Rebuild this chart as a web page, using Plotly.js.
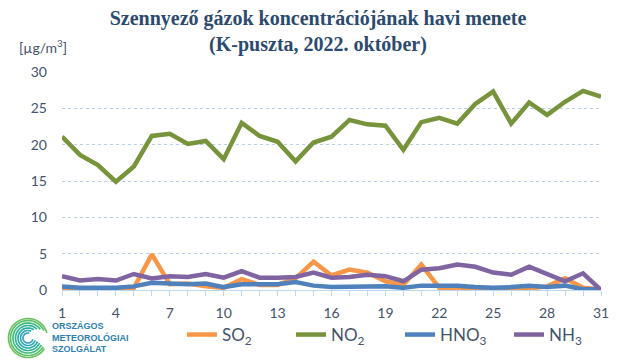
<!DOCTYPE html>
<html><head><meta charset="utf-8">
<script src="https://cdn.plot.ly/plotly-3.0.1.min.js"></script>
<style>html,body{margin:0;padding:0;background:#fff}#chart{width:640px;height:360px}</style>
</head><body><div id="chart"></div>
<script>
const days = Array.from({length:31},(_,i)=>i+1);
const seriesNames = ['SO<sub>2</sub>','NO<sub>2</sub>','HNO<sub>3</sub>','NH<sub>3</sub>'];
const so2  = [0.3,0.2,0.2,0.2,0.3,4.9,0.8,0.9,0.5,0.3,1.5,0.7,0.7,1.6,3.9,2.0,2.8,2.4,1.2,0.7,3.5,0.3,0.1,0.1,0.1,0.1,0.2,0.5,1.6,0.3,0.1];
const no2  = [21.1,18.6,17.2,14.9,17.0,21.2,21.5,20.1,20.5,18.0,23.0,21.2,20.4,17.7,20.3,21.1,23.4,22.8,22.6,19.3,23.1,23.7,22.9,25.6,27.3,22.9,25.8,24.1,25.9,27.4,26.6];
const hno3 = [0.5,0.3,0.3,0.3,0.5,1.0,0.9,0.8,0.9,0.4,0.8,0.8,0.8,1.1,0.6,0.4,0.4,0.4,0.5,0.3,0.6,0.6,0.6,0.4,0.3,0.4,0.6,0.4,0.6,0.1,0.1];
const nh3  = [1.9,1.3,1.5,1.3,2.2,1.6,1.9,1.8,2.2,1.7,2.6,1.7,1.7,1.8,2.4,1.7,1.8,2.1,1.9,1.2,2.8,3.0,3.5,3.2,2.4,2.1,3.2,2.2,1.2,2.3,0.0];
const xTickVals = [1,4,7,10,13,16,19,22,25,28,31];
const colors = ['#F79646','#77933C','#4F81BD','#8064A2'];

const W=640,H=360, L=62, R=601, T=72, B=290;
function px2paper(x,y){return [(x-L)/(R-L),(B-y)/(B-T)];}
function arcPath(cx,cy,r,a0,a1){
  let s='';const n=48;
  for(let i=0;i<=n;i++){const a=(a0+(a1-a0)*i/n)*Math.PI/180;
    const p=px2paper(cx+r*Math.cos(a),cy-r*Math.sin(a));
    s+=(i?'L':'M')+p[0].toFixed(5)+','+p[1].toFixed(5);}
  return s;
}
const swirlCols=['#3aa0c8','#2fa6b8','#29aca6','#31b394','#42b97f','#5bbf6c','#6cc35f'];
const shapes=[];
const radii=[5,7.5,10,12.5,15,17.5,19.5];
radii.forEach((r,i)=>{
  shapes.push({type:'path',xref:'paper',yref:'paper',path:arcPath(28,338,r,75-i*10,345-i*3),
    line:{color:swirlCols[i],width:1.7}});
});

const data=[so2,no2,hno3,nh3].map((v,i)=>({
  x:days,y:v,type:'scatter',mode:'lines',name:seriesNames[i],
  line:{color:colors[i],width:4.5},hoverinfo:'skip'
}));

const tickFont={family:'Lato, "Noto Sans", sans-serif',size:14,color:'#44546A'};
const layout={
  width:W,height:H,
  margin:{l:L,r:W-R,t:T,b:H-B,pad:0},
  paper_bgcolor:'#fff',plot_bgcolor:'#fff',
  title:{text:'Szennyező gázok koncentrációjának havi menete<br>(K-puszta, 2022. október)',
    font:{family:'"Liberation Serif", "DejaVu Serif", serif',size:20,color:'#2B4A6F',weight:'bold'},
    x:318/640,xanchor:'center',xref:'container',y:0.93,yanchor:'top',yref:'container'},
  xaxis:{range:[1,31],tickvals:xTickVals,ticktext:xTickVals.map(String),automargin:false,
    showgrid:false,zeroline:false,showline:true,linecolor:'#BDD7EE',linewidth:1,
    ticks:'outside',ticklen:5,tickcolor:'#BDD7EE',tickfont:tickFont,ticklabelstandoff:5,
    minor:{dtick:1,tick0:1,ticks:'outside',ticklen:5,tickcolor:'#BDD7EE',showgrid:false}},
  yaxis:{range:[0,30],dtick:5,tick0:0,showgrid:true,gridcolor:'#B7CDE8',griddash:'dot',gridwidth:1,automargin:false,
    zeroline:false,showline:false,ticks:'',tickfont:tickFont,ticklabelstandoff:14},
  showlegend:true,
  legend:{orientation:'h',xref:'container',yref:'container',x:182/W,xanchor:'left',y:1-335/H,yanchor:'middle',
    font:{family:'Lato, "Noto Sans", sans-serif',size:17,color:'#44546A'},
    entrywidth:64,entrywidthmode:'pixels',bgcolor:'rgba(0,0,0,0)',tracegroupgap:0},
  annotations:[
    {xref:'paper',yref:'paper',x:px2paper(17,0)[0],y:px2paper(0,47)[1],xanchor:'left',yanchor:'middle',
     text:'[µg/m<sup>3</sup>]',showarrow:false,font:{family:'Lato, "Noto Sans", sans-serif',size:14,color:'#44546A'}},
    {xref:'paper',yref:'paper',x:px2paper(50,0)[0],y:px2paper(0,337)[1],xanchor:'left',yanchor:'middle',align:'left',
     text:'ORSZÁGOS<br>METEOROLÓGIAI<br>SZOLGÁLAT',showarrow:false,
     font:{family:'"Liberation Sans", Arial, sans-serif',size:9,color:'#2F7FAF',weight:'bold'}}
  ],
  shapes:shapes
};
Plotly.newPlot('chart',data,layout,{staticPlot:true,displayModeBar:false});
</script></body></html>
